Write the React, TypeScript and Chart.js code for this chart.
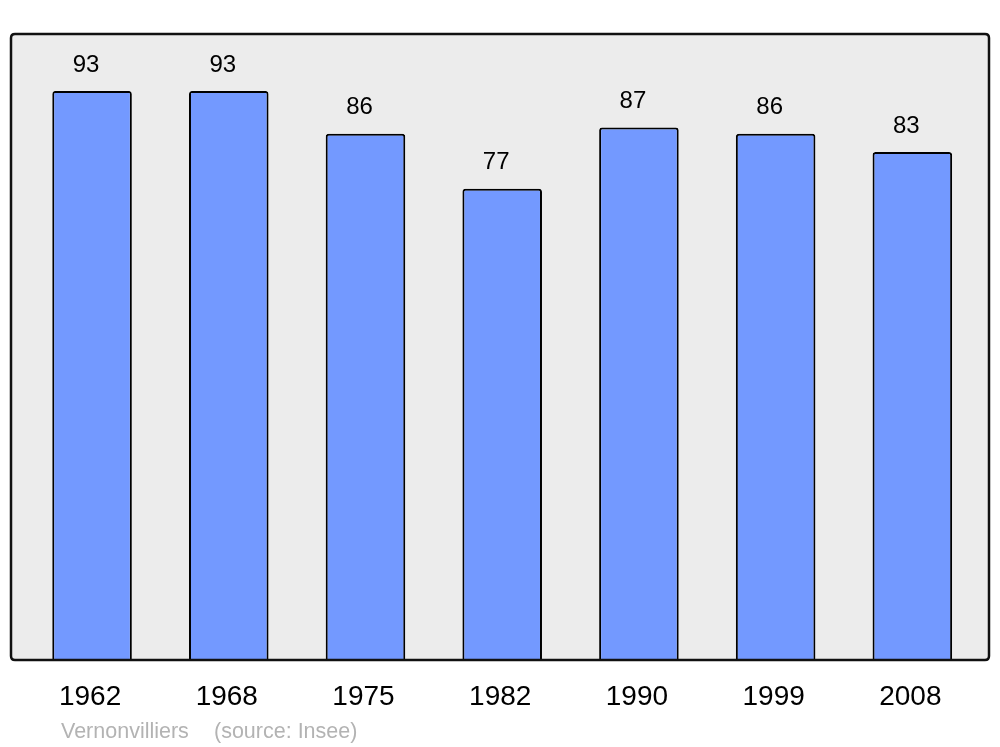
import React, { useEffect, useRef } from "react";
import { Chart, registerables } from "chart.js";

Chart.register(...registerables);

const years = ["1962", "1968", "1975", "1982", "1990", "1999", "2008"];
const population = [93, 93, 86, 77, 87, 86, 83];
const sourceName = "Vernonvilliers";
const sourceNote = "(source: Insee)";

const FONT = "'Liberation Sans', Arial, sans-serif";

function roundRect(ctx: CanvasRenderingContext2D, x: number, y: number, w: number, h: number, r: number) {
  ctx.beginPath();
  ctx.moveTo(x + r, y);
  ctx.lineTo(x + w - r, y);
  ctx.quadraticCurveTo(x + w, y, x + w, y + r);
  ctx.lineTo(x + w, y + h - r);
  ctx.quadraticCurveTo(x + w, y + h, x + w - r, y + h);
  ctx.lineTo(x + r, y + h);
  ctx.quadraticCurveTo(x, y + h, x, y + h - r);
  ctx.lineTo(x, y + r);
  ctx.quadraticCurveTo(x, y, x + r, y);
  ctx.closePath();
}

const frame = {
  id: "frame",
  beforeDatasetsDraw(chart: any) {
    const ctx = chart.ctx;
    const a = chart.chartArea;
    ctx.save();
    roundRect(ctx, 11, a.top, 978, a.bottom - a.top, 4);
    ctx.fillStyle = "#ececec";
    ctx.fill();
    ctx.restore();
  },
  afterDatasetsDraw(chart: any) {
    const ctx = chart.ctx;
    const a = chart.chartArea;
    const meta = chart.getDatasetMeta(0);
    ctx.save();
    roundRect(ctx, 11, a.top, 978, a.bottom - a.top, 4);
    ctx.lineWidth = 2.5;
    ctx.strokeStyle = "#111";
    ctx.stroke();

    ctx.fillStyle = "#000";
    ctx.textAlign = "center";
    ctx.textBaseline = "middle";
    ctx.font = `24px ${FONT}`;
    meta.data.forEach((bar: any, i: number) => {
      ctx.fillText(String(population[i]), bar.x - 6, bar.y - 26);
    });
    ctx.font = `28px ${FONT}`;
    meta.data.forEach((bar: any, i: number) => {
      ctx.fillText(years[i], bar.x - 2, a.bottom + 37);
    });
    ctx.fillStyle = "#b3b3b3";
    ctx.textAlign = "left";
    ctx.font = `21.5px ${FONT}`;
    ctx.fillText(sourceName, 61, a.bottom + 72);
    ctx.fillText(sourceNote, 214, a.bottom + 72);
    ctx.restore();
  },
};

export default function App() {
  const ref = useRef<HTMLCanvasElement>(null);
  useEffect(() => {
    document.body.style.margin = "0";
    const chart = new Chart(ref.current!, {
      type: "bar",
      data: {
        labels: years,
        datasets: [
          {
            data: population,
            backgroundColor: "#7399ff",
            borderColor: "#000",
            borderWidth: 2,
            borderRadius: 3,
            borderSkipped: "bottom",
            barPercentage: 0.582,
            categoryPercentage: 1,
          },
        ],
      },
      options: {
        animation: false,
        responsive: false,
        layout: { padding: { left: 23.7, right: 19.3, top: 34, bottom: 87 } },
        plugins: { legend: { display: false }, tooltip: { enabled: false } },
        scales: {
          x: { display: false },
          y: { display: false, min: 0, max: 102.3 },
        },
      },
      plugins: [frame],
    });
    return () => chart.destroy();
  }, []);
  return (
    <div style={{ position: "absolute", left: 0, top: 0, width: 1000, height: 747, background: "#fff" }}>
      <canvas ref={ref} width={1000} height={747} style={{ width: 1000, height: 747 }} />
    </div>
  );
}
